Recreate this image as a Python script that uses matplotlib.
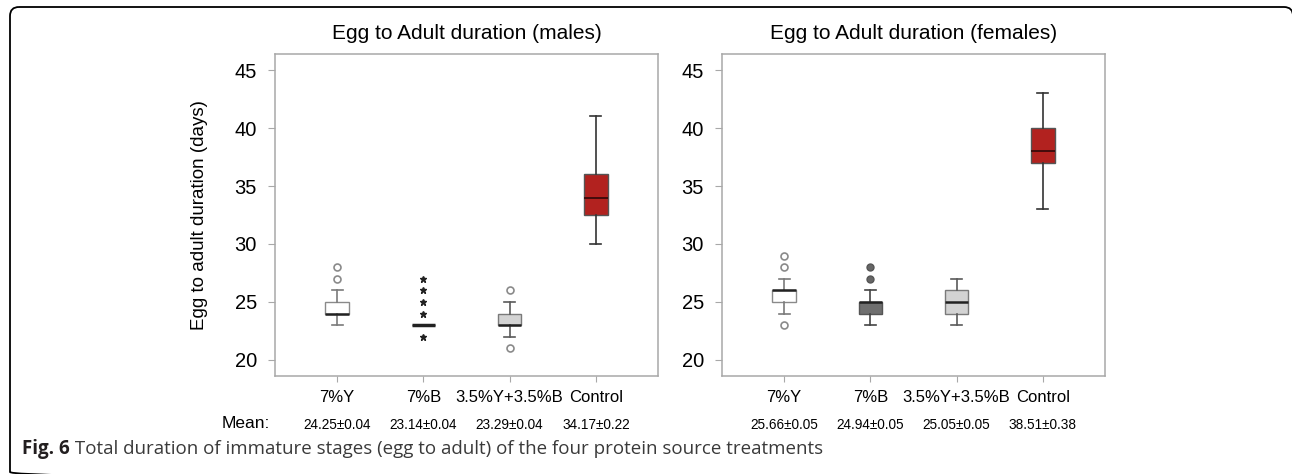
import matplotlib
matplotlib.use("Agg")
import matplotlib.pyplot as plt
from matplotlib.patches import FancyBboxPatch

plt.rcParams['font.family'] = ['Liberation Sans', 'DejaVu Sans']

# 数据：四个处理
categories = ["7%Y", "7%B", "3.5%Y+3.5%B", "Control"]

# 雄性
male_lo = [23, 23, 22, 30]
male_q1 = [24, 23, 23, 32.5]
male_med = [24, 23, 23, 34]
male_q3 = [25, 23, 24, 36]
male_hi = [26, 23, 25, 41]
male_out = [[27, 28], [22, 24, 25, 26, 27], [21, 26], []]
male_mean = ["24.25±0.04", "23.14±0.04", "23.29±0.04", "34.17±0.22"]

# 雌性
female_lo = [24, 23, 23, 33]
female_q1 = [25, 24, 24, 37]
female_med = [26, 25, 25, 38]
female_q3 = [26, 25, 26, 40]
female_hi = [27, 26, 27, 43]
female_out = [[23, 28, 29], [27, 28], [], []]
female_mean = ["25.66±0.05", "24.94±0.05", "25.05±0.05", "38.51±0.38"]

yticks = [20, 25, 30, 35, 40, 45]

# 样式
FILLS = ["white", "#6f6f6f", "#d3d3d3", "#b2221f"]
EDGES = ["#8a8a8a", "#555555", "#7a7a7a", "#555555"]
WHISK = ["#7a7a7a", "#444444", "#5a5a5a", "#333333"]
SPINE = "#a8a8a8"

W, H = 1292, 474
fig = plt.figure(figsize=(W / 100, H / 100), dpi=100)

# 外框（上、左，带圆角）
bg = fig.add_axes([0, 0, 1, 1], zorder=-1)
bg.set_xlim(0, W)
bg.set_ylim(H, 0)
bg.axis("off")
bg.add_patch(FancyBboxPatch((10, 7), W - 9, H, boxstyle="round,pad=0,rounding_size=9",
                            fc="none", ec="black", lw=1.3))


def draw_panel(rect, title, lo, q1, med, q3, hi, out, means, male):
    ax = fig.add_axes(rect)
    stats = []
    for i in range(len(categories)):
        stats.append(dict(whislo=lo[i], q1=q1[i], med=med[i], q3=q3[i],
                          whishi=hi[i], fliers=out[i]))
    pos = list(range(1, len(categories) + 1))
    art = ax.bxp(stats, positions=pos, widths=0.27, patch_artist=True,
                 showfliers=True, capwidths=0.13)
    for i in range(len(categories)):
        b = art['boxes'][i]
        b.set_facecolor(FILLS[i])
        b.set_edgecolor(EDGES[i])
        b.set_linewidth(1.0)
        for w in art['whiskers'][2 * i:2 * i + 2] + art['caps'][2 * i:2 * i + 2]:
            w.set_color(WHISK[i])
            w.set_linewidth(1.2)
        m = art['medians'][i]
        m.set_color("#222222" if i != 3 else "#3a0a0a")
        m.set_linewidth(1.8 if i != 3 else 1.3)
        f = art['fliers'][i]
        if male and i == 1:
            f.set(marker="*", markerfacecolor="#222222", markeredgecolor="#222222",
                  markersize=5)
            m.set_linewidth(2.5)
        elif (not male) and i == 1:
            f.set(marker="o", markerfacecolor="#666666", markeredgecolor="#555555",
                  markersize=5)
        else:
            f.set(marker="o", markerfacecolor="white", markeredgecolor="#8a8a8a",
                  markersize=5, markeredgewidth=1.2)

    ax.set_xlim(0.28, 4.72)
    ax.set_ylim(18.62, 46.38)
    ax.set_yticks(yticks)
    ax.set_xticks(pos)
    ax.set_xticklabels(categories, fontsize=12)
    ax.tick_params(axis="y", labelsize=14.5, length=5, color=SPINE, pad=8)
    ax.tick_params(axis="x", length=4, color=SPINE, pad=6)
    for s in ax.spines.values():
        s.set_color(SPINE)
        s.set_linewidth(1.1)
    ax.set_title(title, fontsize=15, pad=11)
    for p, t in zip(pos, means):
        ax.text(p, -0.152, t, transform=ax.get_xaxis_transform(),
                ha="center", va="center", fontsize=9.8)
    return ax


ax1 = draw_panel([275 / W, 1 - 376 / H, 383 / W, 322 / H],
                 "Egg to Adult duration (males)",
                 male_lo, male_q1, male_med, male_q3, male_hi, male_out, male_mean, True)
ax1.set_ylabel("Egg to adult duration (days)", fontsize=13.5)
ax1.yaxis.set_label_coords(-0.175, 0.5)

ax2 = draw_panel([722 / W, 1 - 376 / H, 383 / W, 322 / H],
                 "Egg to Adult duration (females)",
                 female_lo, female_q1, female_med, female_q3, female_hi, female_out,
                 female_mean, False)

fig.text(270 / W, 1 - 423 / H, "Mean:", ha="right", va="center", fontsize=12.5)

# 图注
cap = fig.text(22 / W, 1 - 449 / H, "Fig. 6", ha="left", va="center",
               fontsize=13.5, fontweight="bold", family="Open Sans", color="#231f20")
bg.annotate(" Total duration of immature stages (egg to adult) of the four protein source treatments",
            xy=(1, 0.5), xycoords=cap, va="center", ha="left",
            fontsize=13.5, family="Open Sans", color="#3a3a3a")

fig.savefig("out.png", dpi=100)
